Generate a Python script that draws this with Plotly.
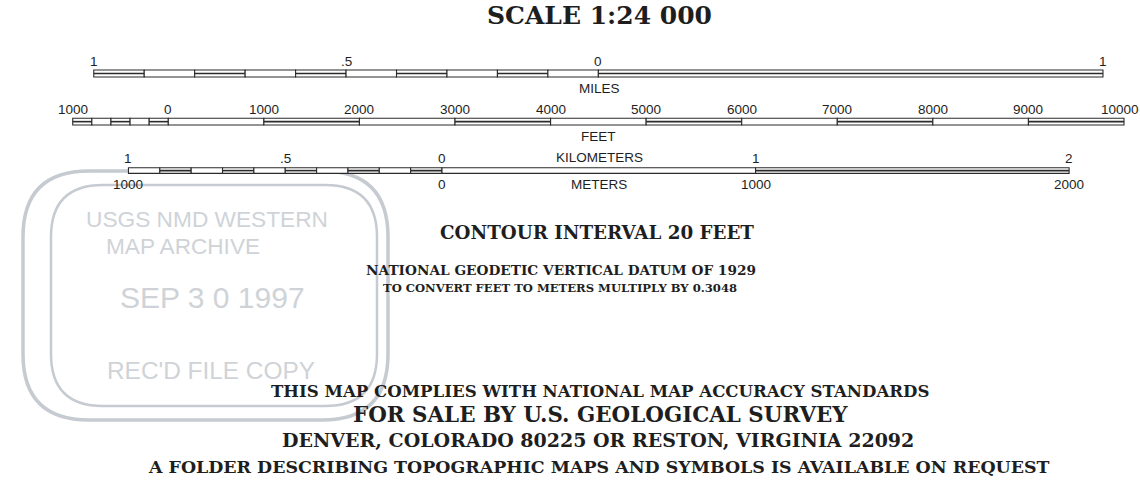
import plotly.graph_objects as go

# ---------------- data ----------------
MILE_FT = 5280.0
KM_FT = 3280.84
M_FT = 3.28084

miles_bounds = [-1.0, -0.9, -0.8, -0.7, -0.6, -0.5, -0.4, -0.3, -0.2, -0.1, 0.0, 1.0]
miles_filled = [1, 0, 1, 0, 1, 0, 1, 0, 1, 0, 1]
miles_ticks = [-1.0, -0.5, 0.0, 1.0]
miles_labels = ["1", ".5", "0", "1"]

feet_bounds = [-1000, -800, -600, -400, -200, 0, 1000, 2000, 3000, 4000,
               5000, 6000, 7000, 8000, 9000, 10000]
feet_filled = [1, 0, 1, 0, 1, 0, 1, 0, 1, 0, 1, 0, 1, 0, 1]
feet_ticks = [-1000, 0, 1000, 2000, 3000, 4000, 5000, 6000, 7000, 8000, 9000, 10000]
feet_labels = ["1000", "0", "1000", "2000", "3000", "4000", "5000", "6000",
               "7000", "8000", "9000", "10000"]

km_bounds = [-1.0, -0.9, -0.8, -0.7, -0.6, -0.5, -0.4, -0.3, -0.2, -0.1, 0.0, 1.0, 2.0]
km_filled = [0, 1, 0, 1, 0, 1, 0, 1, 0, 1, 0, 1]
km_ticks = [-1.0, -0.5, 0.0, 1.0, 2.0]
km_labels = ["1", ".5", "0", "1", "2"]
m_ticks = [-1000, 0, 1000, 2000]
m_labels = ["1000", "0", "1000", "2000"]

title_text = "SCALE 1:24 000"
note_texts = [
    "CONTOUR INTERVAL 20 FEET",
    "NATIONAL GEODETIC VERTICAL DATUM OF 1929",
    "TO CONVERT FEET TO METERS MULTIPLY BY 0.3048",
    "THIS MAP COMPLIES WITH NATIONAL MAP ACCURACY STANDARDS",
    "FOR SALE BY U.S. GEOLOGICAL SURVEY",
    "DENVER, COLORADO 80225 OR RESTON, VIRGINIA 22092",
    "A FOLDER DESCRIBING TOPOGRAPHIC MAPS AND SYMBOLS IS AVAILABLE ON REQUEST",
]
stamp_texts = ["USGS NMD WESTERN", "MAP ARCHIVE", "SEP 3 0 1997", "REC'D FILE COPY"]

# ---------------- layout / style ----------------
W, H = 1140, 491
PX_PER_FT = 0.09557
ZERO_PX = 168.3
X_RANGE = [-ZERO_PX / PX_PER_FT, (W - ZERO_PX) / PX_PER_FT]

INK = "#1e1e1e"
LINE = "#2b2b2b"
STAMP = "#c6cad1"
STAMP_TXT = "#cfd3d8"
SERIF = "DejaVu Serif"
SANS = "Liberation Sans, Arial, sans-serif"
LBL = 13.5

# each bar: origin on ground axis (ft), unit length (ft), top, bottom (px rows)
bars = {
    "miles": dict(origin=4500.0, unit=MILE_FT, y0=70.0, y1=77.0),
    "feet": dict(origin=0.0, unit=1.0, y0=118.3, y1=125.0),
    "km": dict(origin=2864.0, unit=KM_FT, y0=167.8, y1=173.4),
}

fig = go.Figure()
shapes = []
annotations = []


def add_bar(bar, bounds, filled):
    o, u, y0, y1 = bar["origin"], bar["unit"], bar["y0"], bar["y1"]
    for i, f in enumerate(filled):
        xa = o + bounds[i] * u
        xb = o + bounds[i + 1] * u
        shapes.append(dict(type="rect", xref="x", yref="y", x0=xa, x1=xb, y0=y0, y1=y1,
                           fillcolor="white", line=dict(color=LINE, width=1.1), layer="above"))
        if f:
            ym = (y0 + y1) / 2
            shapes.append(dict(type="line", xref="x", yref="y", x0=xa, x1=xb, y0=ym, y1=ym,
                               line=dict(color=LINE, width=1.6), layer="above"))


def add_labels(bar, ticks, labels, y, size=LBL, last_shift=0):
    o, u = bar["origin"], bar["unit"]
    n = len(ticks)
    for i, (t, s) in enumerate(zip(ticks, labels)):
        annotations.append(dict(x=o + t * u, y=y, xref="x", yref="y", text=s, showarrow=False,
                                xanchor="center", yanchor="middle",
                                xshift=last_shift if i == n - 1 else 0,
                                font=dict(family=SANS, size=size, color=INK)))


def add_text(text, xpx, ypx, size, family=SERIF, color=INK, weight="bold"):
    annotations.append(dict(x=xpx / W, y=ypx, xref="paper", yref="y", text=text, showarrow=False,
                            xanchor="center", yanchor="middle",
                            font=dict(family=family, size=size, color=color, weight=weight)))


# scale bars
add_bar(bars["miles"], miles_bounds, miles_filled)
add_bar(bars["feet"], feet_bounds, feet_filled)
add_bar(bars["km"], km_bounds, km_filled)

add_labels(bars["miles"], miles_ticks, miles_labels, 61)
add_labels(bars["feet"], feet_ticks, feet_labels, 109.5, last_shift=-4)
add_labels(bars["km"], km_ticks, km_labels, 158.5)
km_as_m = dict(bars["km"], unit=M_FT)
add_labels(km_as_m, m_ticks, m_labels, 184.5)

# unit names
add_text("MILES", 599, 88, LBL, family=SANS, weight="normal")
add_text("FEET", 598, 136.5, LBL, family=SANS, weight="normal")
add_text("KILOMETERS", 599, 157, LBL, family=SANS, weight="normal")
add_text("METERS", 599, 184.5, LBL, family=SANS, weight="normal")

# title and notes
add_text(title_text, 599, 15, 25)
note_pos = [(597, 232, 18.3), (561, 270, 13.7), (560, 288, 11.6), (600, 391, 16.6),
            (600, 414, 21.4), (598, 440, 19.0), (599, 467, 17.4)]
for t, (xp, yp, sz) in zip(note_texts, note_pos):
    add_text(t, xp, yp, sz)


# stamp (pixel axis x2)
def rrect(x0, y0, x1, y1, r):
    return (f"M {x0 + r},{y0} L {x1 - r},{y0} Q {x1},{y0} {x1},{y0 + r} "
            f"L {x1},{y1 - r} Q {x1},{y1} {x1 - r},{y1} L {x0 + r},{y1} "
            f"Q {x0},{y1} {x0},{y1 - r} L {x0},{y0 + r} Q {x0},{y0} {x0 + r},{y0} Z")


shapes.insert(0, dict(type="path", xref="x2", yref="y", path=rrect(23, 171, 388, 420, 66),
                      line=dict(color=STAMP, width=3.5), layer="below"))
shapes.insert(0, dict(type="path", xref="x2", yref="y", path=rrect(51, 185, 377, 406, 52),
                      line=dict(color=STAMP, width=2.5), layer="below"))
stamp_pos = [(207, 219, 22.7), (183, 246, 22.6), (212, 297, 30), (211, 370, 24.4)]
for t, (xp, yp, sz) in zip(stamp_texts, stamp_pos):
    add_text(t, xp, yp, sz, family=SANS, color=STAMP_TXT, weight="normal")

fig.update_layout(
    width=W, height=H,
    margin=dict(l=0, r=0, t=0, b=0),
    paper_bgcolor="white", plot_bgcolor="white",
    showlegend=False,
    xaxis=dict(range=X_RANGE, visible=False, fixedrange=True),
    xaxis2=dict(range=[0, W], visible=False, overlaying="x", anchor="y", fixedrange=True),
    yaxis=dict(range=[H, 0], visible=False, fixedrange=True),
    shapes=shapes,
    annotations=annotations,
)

fig.write_html(
    "out.html",
    config={"displayModeBar": False},
    post_script="document.body.style.margin='0px';document.body.style.padding='0px';"
                "document.body.style.overflow='hidden';",
)
